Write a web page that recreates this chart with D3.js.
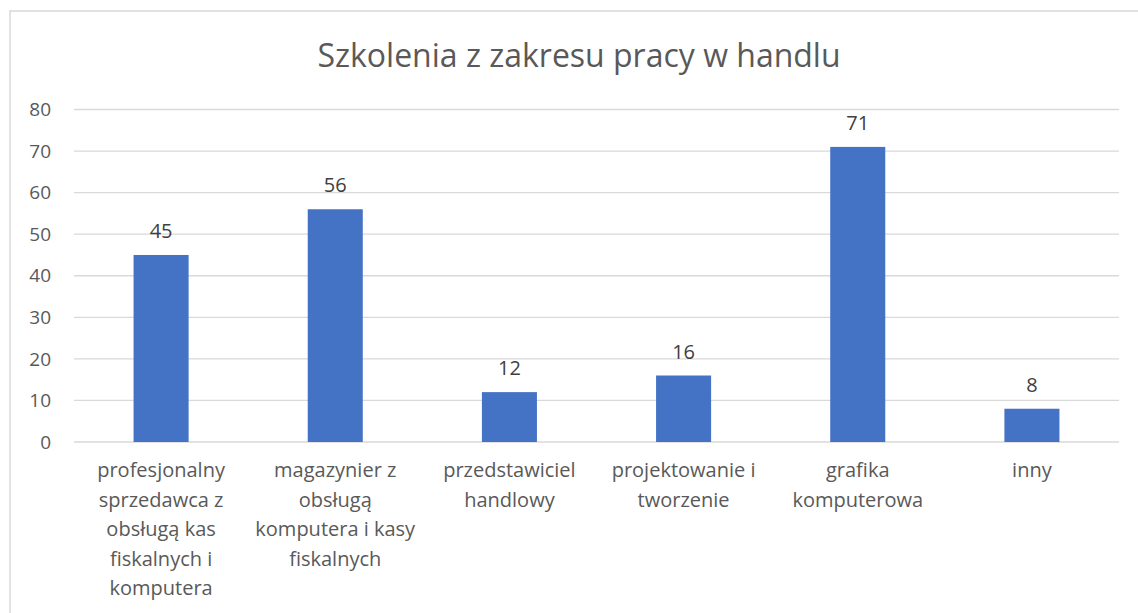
<!DOCTYPE html>
<html>
<head>
<meta charset="utf-8">
<script src="https://cdn.jsdelivr.net/npm/d3@7"></script>
<style>
  body { margin: 0; background: #fff; }
  text { font-family: "Open Sans", "Noto Sans", sans-serif; }
</style>
</head>
<body>
<div id="chart"></div>
<script>
const title = 'Szkolenia z zakresu pracy w handlu';
const categories = [
  ['profesjonalny', 'sprzedawca z', 'obsługą kas', 'fiskalnych i', 'komputera'],
  ['magazynier z', 'obsługą', 'komputera i kasy', 'fiskalnych'],
  ['przedstawiciel', 'handlowy'],
  ['projektowanie i', 'tworzenie'],
  ['grafika', 'komputerowa'],
  ['inny']
];
const values = [45, 56, 12, 16, 71, 8];
const yTicks = [0, 10, 20, 30, 40, 50, 60, 70, 80];

const width = 1138, height = 613;
const margin = {top: 109.5, right: 19, bottom: 171, left: 74};

const svg = d3.select('#chart')
  .append('svg')
    .attr('width', width)
    .attr('height', height);

// chart area frame
svg.append('rect')
  .attr('x', 10).attr('y', 11)
  .attr('width', width + 20).attr('height', height + 20)
  .attr('fill', 'none')
  .attr('stroke', '#d9d9d9')
  .attr('stroke-width', 1.5);

const keys = categories.map((c, i) => 'c' + i);

const x = d3.scaleBand()
  .domain(keys)
  .range([margin.left, width - margin.right])
  .paddingInner(0.684)
  .paddingOuter(0.342);

const y = d3.scaleLinear()
  .domain([0, 80])
  .range([height - margin.bottom, margin.top]);

// gridlines
svg.append('g')
  .selectAll('line')
  .data(yTicks)
  .join('line')
    .attr('x1', margin.left)
    .attr('x2', width - margin.right)
    .attr('y1', d => y(d))
    .attr('y2', d => y(d))
    .attr('stroke', '#d9d9d9')
    .attr('stroke-width', 1.3);

// y tick labels
svg.append('g')
  .selectAll('text')
  .data(yTicks)
  .join('text')
    .attr('x', 51)
    .attr('y', d => y(d))
    .attr('dy', '0.35em')
    .attr('text-anchor', 'end')
    .attr('fill', '#595959')
    .attr('font-size', 19)
    .text(d => d);

// bars
svg.append('g')
  .selectAll('rect')
  .data(values)
  .join('rect')
    .attr('x', (d, i) => x(keys[i]))
    .attr('y', d => y(d))
    .attr('width', x.bandwidth())
    .attr('height', d => y(0) - y(d))
    .attr('fill', '#4472c4');

// data labels
svg.append('g')
  .selectAll('text')
  .data(values)
  .join('text')
    .attr('x', (d, i) => x(keys[i]) + x.bandwidth() / 2)
    .attr('y', d => y(d) - 24)
    .attr('dy', '0.35em')
    .attr('text-anchor', 'middle')
    .attr('fill', '#404040')
    .attr('font-size', 20)
    .text(d => d);

// category labels
const catG = svg.append('g')
  .selectAll('text')
  .data(categories)
  .join('text')
    .attr('text-anchor', 'middle')
    .attr('fill', '#595959')
    .attr('font-size', 20)
    .attr('x', (d, i) => x(keys[i]) + x.bandwidth() / 2)
    .attr('y', 470);

catG.selectAll('tspan')
  .data(d => d)
  .join('tspan')
    .attr('x', function() { return d3.select(this.parentNode).attr('x'); })
    .attr('dy', (d, j) => j === 0 ? '0.35em' : 29.5)
    .text(d => d);

// title
svg.append('text')
  .attr('x', 579)
  .attr('y', 56)
  .attr('dy', '0.35em')
  .attr('text-anchor', 'middle')
  .attr('fill', '#595959')
  .attr('font-size', 32)
  .text(title);
</script>
</body>
</html>
